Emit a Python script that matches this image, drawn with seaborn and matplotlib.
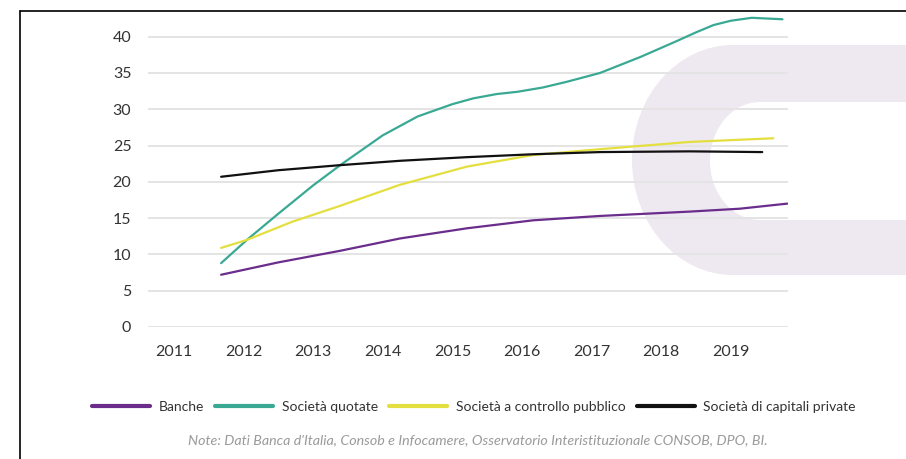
import matplotlib
matplotlib.use("Agg")
import matplotlib.pyplot as plt
from matplotlib.patches import Ellipse, Rectangle
from matplotlib.lines import Line2D
import seaborn as sns
import pandas as pd

# ---- data ----
years_ticks = [2011, 2012, 2013, 2014, 2015, 2016, 2017, 2018, 2019]
y_ticks = [0, 5, 10, 15, 20, 25, 30, 35, 40]

banche_x = [2011.68, 2012.5, 2013.39, 2014.25, 2015.21, 2016.16, 2017.12, 2018.41, 2019.13, 2019.81]
banche_y = [7.2, 8.9, 10.5, 12.2, 13.6, 14.7, 15.3, 15.9, 16.3, 17.0]

quotate_x = [2011.68, 2012.05, 2012.5, 2013.0, 2013.39, 2014.0, 2014.5, 2015.0, 2015.3,
             2015.64, 2015.93, 2016.3, 2016.65, 2017.12, 2017.70, 2018.2, 2018.5,
             2018.75, 2019.0, 2019.3, 2019.74]
quotate_y = [8.8, 12.0, 15.6, 19.5, 22.3, 26.4, 29.0, 30.7, 31.5,
             32.1, 32.4, 33.0, 33.8, 35.0, 37.2, 39.3, 40.6,
             41.6, 42.2, 42.6, 42.4]

pubblico_x = [2011.68, 2012.05, 2012.7, 2013.39, 2014.25, 2015.21, 2016.16, 2017.12, 2018.41, 2019.61]
pubblico_y = [10.9, 12.0, 14.5, 16.7, 19.6, 22.1, 23.7, 24.5, 25.5, 26.0]

private_x = [2011.68, 2012.5, 2013.39, 2014.25, 2015.21, 2016.16, 2017.12, 2018.41, 2019.45]
private_y = [20.7, 21.6, 22.3, 22.9, 23.4, 23.8, 24.1, 24.2, 24.1]

series_names = ["Banche", "Società quotate", "Società a controllo pubblico",
                "Società di capitali private"]
series_colors = ["#6a2d8c", "#3aa994", "#e3df3e", "#111111"]

note_text = ("Note: Dati Banca d'Italia, Consob e Infocamere, Osservatorio "
             "Interistituzionale CONSOB, DPO, BI.")

# ---- long-form table ----
frames = []
for name, xs, ys in zip(series_names,
                        [banche_x, quotate_x, pubblico_x, private_x],
                        [banche_y, quotate_y, pubblico_y, private_y]):
    frames.append(pd.DataFrame({"anno": xs, "valore": ys, "serie": name}))
df = pd.concat(frames, ignore_index=True)

sns.set_theme(style="white")
plt.rcParams["font.family"] = ["Lato", "DejaVu Sans"]

fig = plt.figure(figsize=(9.06, 4.59), dpi=100)
fig.patch.set_facecolor("white")

# watermark "C" (decorative), in inches from bottom-left
lav = "#eee8f1"
fig.add_artist(Ellipse((7.33, 2.99), 2.02, 2.30, transform=fig.dpi_scale_trans,
                       facecolor=lav, edgecolor="none", zorder=0))
fig.add_artist(Rectangle((7.33, 1.84), 2.0, 2.30, transform=fig.dpi_scale_trans,
                         facecolor=lav, edgecolor="none", zorder=0))
fig.add_artist(Ellipse((7.60, 2.98), 1.00, 1.18, transform=fig.dpi_scale_trans,
                       facecolor="white", edgecolor="none", zorder=0.1))
fig.add_artist(Rectangle((7.60, 2.39), 2.0, 1.18, transform=fig.dpi_scale_trans,
                         facecolor="white", edgecolor="none", zorder=0.1))

# frame lines (top and left)
fig.add_artist(Line2D([20 / 906, 1.0], [1 - 11 / 459, 1 - 11 / 459],
                      transform=fig.transFigure, color="black", lw=1.2, zorder=1))
fig.add_artist(Line2D([20 / 906, 20 / 906], [0, 1 - 11 / 459],
                      transform=fig.transFigure, color="black", lw=1.2, zorder=1))

ax = fig.add_axes([148 / 906, 1 - 327 / 459, (788 - 148) / 906, (327 - 12) / 459])
ax.set_facecolor("none")
ax.set_zorder(2)

sns.lineplot(data=df, x="anno", y="valore", hue="serie", hue_order=series_names,
             palette=series_colors, estimator=None, sort=True, linewidth=1.6,
             legend=False, ax=ax)
for ln in ax.get_lines():
    ln.set_solid_joinstyle("round")

ax.set_xlim(2010.63, 2019.82)
ax.set_ylim(0, 43.4)
ax.set_xticks(years_ticks)
ax.set_xticklabels([str(y) for y in years_ticks])
ax.set_yticks(y_ticks)
ax.set_yticklabels([str(v) for v in y_ticks])
ax.set_xlabel("")
ax.set_ylabel("")
ax.grid(axis="y", color="#e4e4e4", linewidth=1.4)
ax.grid(axis="x", visible=False)
ax.set_axisbelow(True)
for s in ax.spines.values():
    s.set_visible(False)
ax.tick_params(axis="both", length=0, labelsize=11.5, colors="#333333")
ax.tick_params(axis="y", pad=12)
ax.tick_params(axis="x", pad=13)

handles = [Line2D([0], [0], color=c, lw=3) for c in series_colors]
fig.legend(handles, series_names, loc="center", bbox_to_anchor=(0.523, 1 - 407 / 459),
           ncol=4, frameon=False, fontsize=10, handlelength=4.2, handletextpad=0.6,
           columnspacing=0.8, labelcolor="#333333")

fig.text(478 / 906, 1 - 440 / 459, note_text, ha="center", va="center",
         fontsize=10.3, style="italic", color="#9a9a9a")

fig.savefig("out.png", dpi=100, facecolor="white")
